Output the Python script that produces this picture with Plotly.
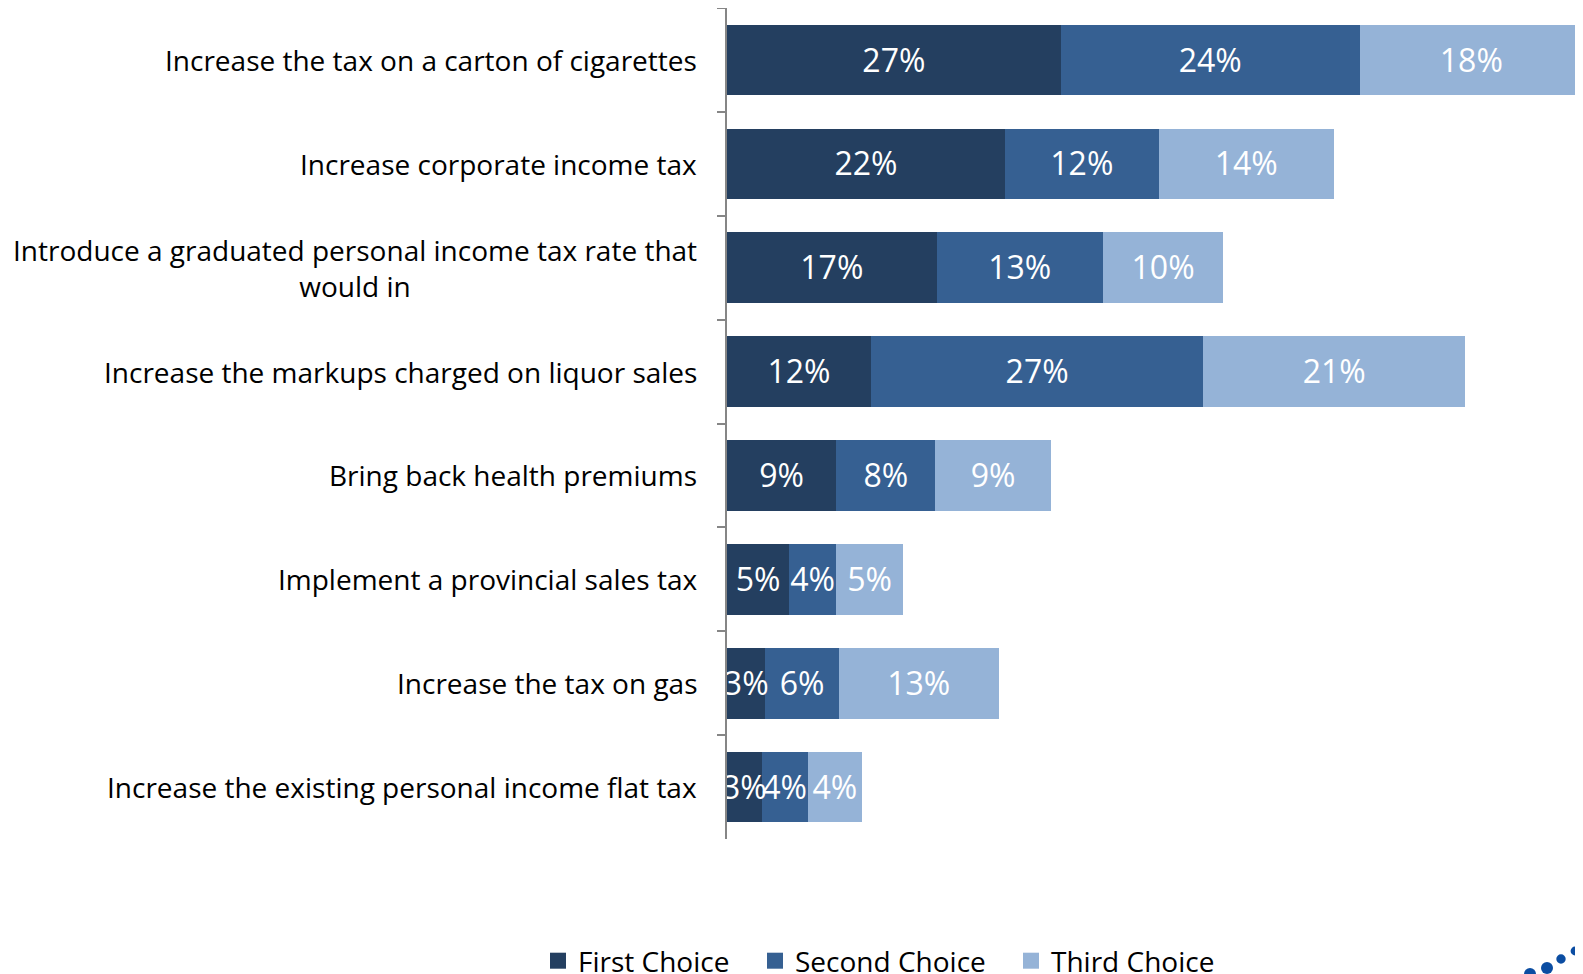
import plotly.graph_objects as go

categories = [
    "Increase the tax on a carton of cigarettes",
    "Increase corporate income tax",
    "Introduce a graduated personal income tax rate that<br>would in",
    "Increase the markups charged on liquor sales",
    "Bring back health premiums",
    "Implement a provincial sales tax",
    "Increase the tax on gas",
    "Increase the existing personal income flat tax",
]
first_choice = [26.9, 22.4, 16.9, 11.6, 8.8, 5.0, 3.1, 2.8]
second_choice = [24.1, 12.4, 13.4, 26.8, 8.0, 3.8, 5.9, 3.7]
third_choice = [18.0, 14.1, 9.7, 21.1, 9.3, 5.4, 12.9, 4.4]
series_names = ["First Choice", "Second Choice", "Third Choice"]
colors = ["#243F60", "#366092", "#95B3D7"]

FONT = "Open Sans"
OFF = 8  # page body margin in the browser
W, H = 1583, 974
L, R, T, B = 719, 8, 0, 143
plot_w = W - L - R
plot_h = H - T - B
n = len(categories)
text_shift = 0.035  # small downward nudge of value labels (in category units)


def px_x(sx):
    return (sx - OFF - L) / plot_w


def px_y(sy):
    return (H - B - (sy - OFF)) / plot_h


series = [first_choice, second_choice, third_choice]
fig = go.Figure()
legend_ids = ["legend", "legend2", "legend3"]
for name, vals, col, lid in zip(series_names, series, colors, legend_ids):
    fig.add_trace(go.Bar(
        y=categories, x=vals, orientation="h", name=name,
        marker=dict(color=col, line=dict(width=0)),
        showlegend=False, hoverinfo="skip",
    ))
    fig.add_trace(go.Scatter(
        x=[None], y=[None], mode="markers", name=name, legend=lid,
        marker=dict(symbol="square", size=17, color=col), showlegend=True,
    ))

# value labels drawn above all bars, centred in each stacked segment
base = [0.0] * n
for name, vals in zip(series_names, series):
    centres = [b + v / 2 for b, v in zip(base, vals)]
    fig.add_trace(go.Scatter(
        x=centres, y=categories, yaxis="y2", mode="text",
        text=[f"{v:.0f}%" for v in vals], textposition="middle center",
        textfont=dict(family=FONT, size=32, color="white"),
        cliponaxis=True, showlegend=False,
        hovertext=[f"{name}: {v}%" for v in vals], hoverinfo="text",
    ))
    base = [b + v for b, v in zip(base, vals)]

# category labels as annotations (centred multi-line text)
for c in categories:
    fig.add_annotation(
        x=px_x(699), xref="paper", y=c, yref="y",
        text=c, showarrow=False, xanchor="right", yanchor="middle", align="center",
        font=dict(family=FONT, size=28, color="#000000"),
    )

# logo dots
dots = [(1530, 974, 6), (1547, 968, 6), (1561, 959, 4.7), (1575, 951, 4.4)]
for sx, sy, r in dots:
    fig.add_shape(
        type="circle", xref="paper", yref="paper",
        xsizemode="pixel", ysizemode="pixel",
        xanchor=px_x(sx), yanchor=px_y(sy),
        x0=-r, x1=r, y0=-r, y1=r,
        fillcolor="#0B4DA2", line=dict(width=0),
    )

legend_style = dict(
    orientation="h", xanchor="left", yanchor="middle", y=px_y(961),
    font=dict(family=FONT, size=28, color="#000000"),
    bgcolor="rgba(0,0,0,0)", itemclick=False, itemdoubleclick=False,
)
legend_lefts = [538, 755, 1011]

fig.update_layout(
    width=W, height=H,
    margin=dict(l=L, r=R, t=T, b=B, autoexpand=False),
    barmode="stack", bargap=0.32,
    plot_bgcolor="white", paper_bgcolor="white",
    font=dict(family=FONT, size=28, color="#000000"),
    showlegend=True,
    legend=dict(x=px_x(legend_lefts[0]), **legend_style),
    legend2=dict(x=px_x(legend_lefts[1]), **legend_style),
    legend3=dict(x=px_x(legend_lefts[2]), **legend_style),
    xaxis=dict(range=[0, 69], showgrid=False, zeroline=False, showline=False,
               showticklabels=False, ticks="", fixedrange=True),
    yaxis=dict(type="category", categoryorder="array", categoryarray=categories,
               range=[n - 0.5, -0.5], showgrid=False, zeroline=False,
               showline=True, linecolor="#868686", linewidth=1.5,
               ticks="outside", tickson="boundaries", ticklen=8,
               tickcolor="#868686", tickwidth=1.5, showticklabels=False,
               fixedrange=True),
    yaxis2=dict(type="category", categoryorder="array", categoryarray=categories,
                overlaying="y", range=[n - 0.5 - text_shift, -0.5 - text_shift],
                visible=False, fixedrange=True),
)

fig.write_html("out.html")
